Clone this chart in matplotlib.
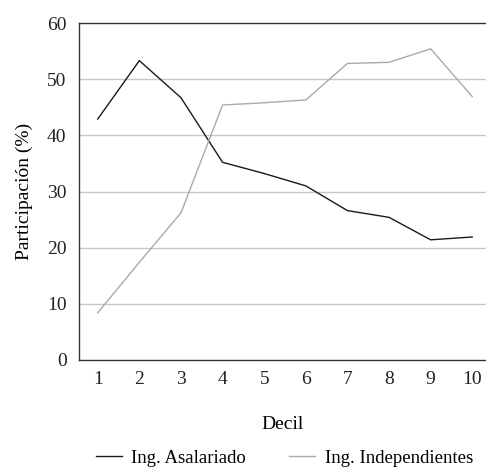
import matplotlib
matplotlib.use("Agg")
import matplotlib.pyplot as plt

deciles = [1, 2, 3, 4, 5, 6, 7, 8, 9, 10]
asalariado = [42.9, 53.3, 46.7, 35.2, 33.2, 31.0, 26.6, 25.4, 21.4, 21.9]
independientes = [8.4, 17.4, 26.2, 45.4, 45.8, 46.3, 52.8, 53.0, 55.4, 46.9]
yticks = [0, 10, 20, 30, 40, 50, 60]

plt.rcParams['font.family'] = ['Liberation Serif', 'DejaVu Serif']
plt.rcParams['font.size'] = 14

fig = plt.figure(figsize=(4.86, 4.68), dpi=100)
ax = fig.add_axes([79/486, 1-360/468, (486-79)/486, (360-23)/468])

for y in yticks[1:-1]:
    ax.axhline(y, color='#c8c8c8', lw=1, zorder=0)

ax.plot(deciles, asalariado, color='#1a1a1a', lw=1, label='Ing. Asalariado')
ax.plot(deciles, independientes, color='#aaaaaa', lw=1, label='Ing. Independientes')

ax.set_xlim(0.55, 10.33)
ax.set_ylim(0, 60)
ax.set_xticks(deciles)
ax.set_yticks(yticks)
ax.tick_params(length=0, pad=9, colors='#222222')
ax.tick_params(axis='x', pad=8)
for side in ['left', 'bottom', 'top']:
    ax.spines[side].set_color('#333333')
    ax.spines[side].set_linewidth(1)
ax.spines['right'].set_visible(False)

ax.set_xlabel('Decil', labelpad=20)
ax.set_ylabel('Participación (%)', labelpad=10)

fig.legend(loc='lower center', bbox_to_anchor=(0.585, -0.026), ncol=2, frameon=False,
           fontsize=13.5, handlelength=1.4, handletextpad=0.5, columnspacing=2.3,
           borderpad=0.2)

fig.savefig('out.png', dpi=100)
